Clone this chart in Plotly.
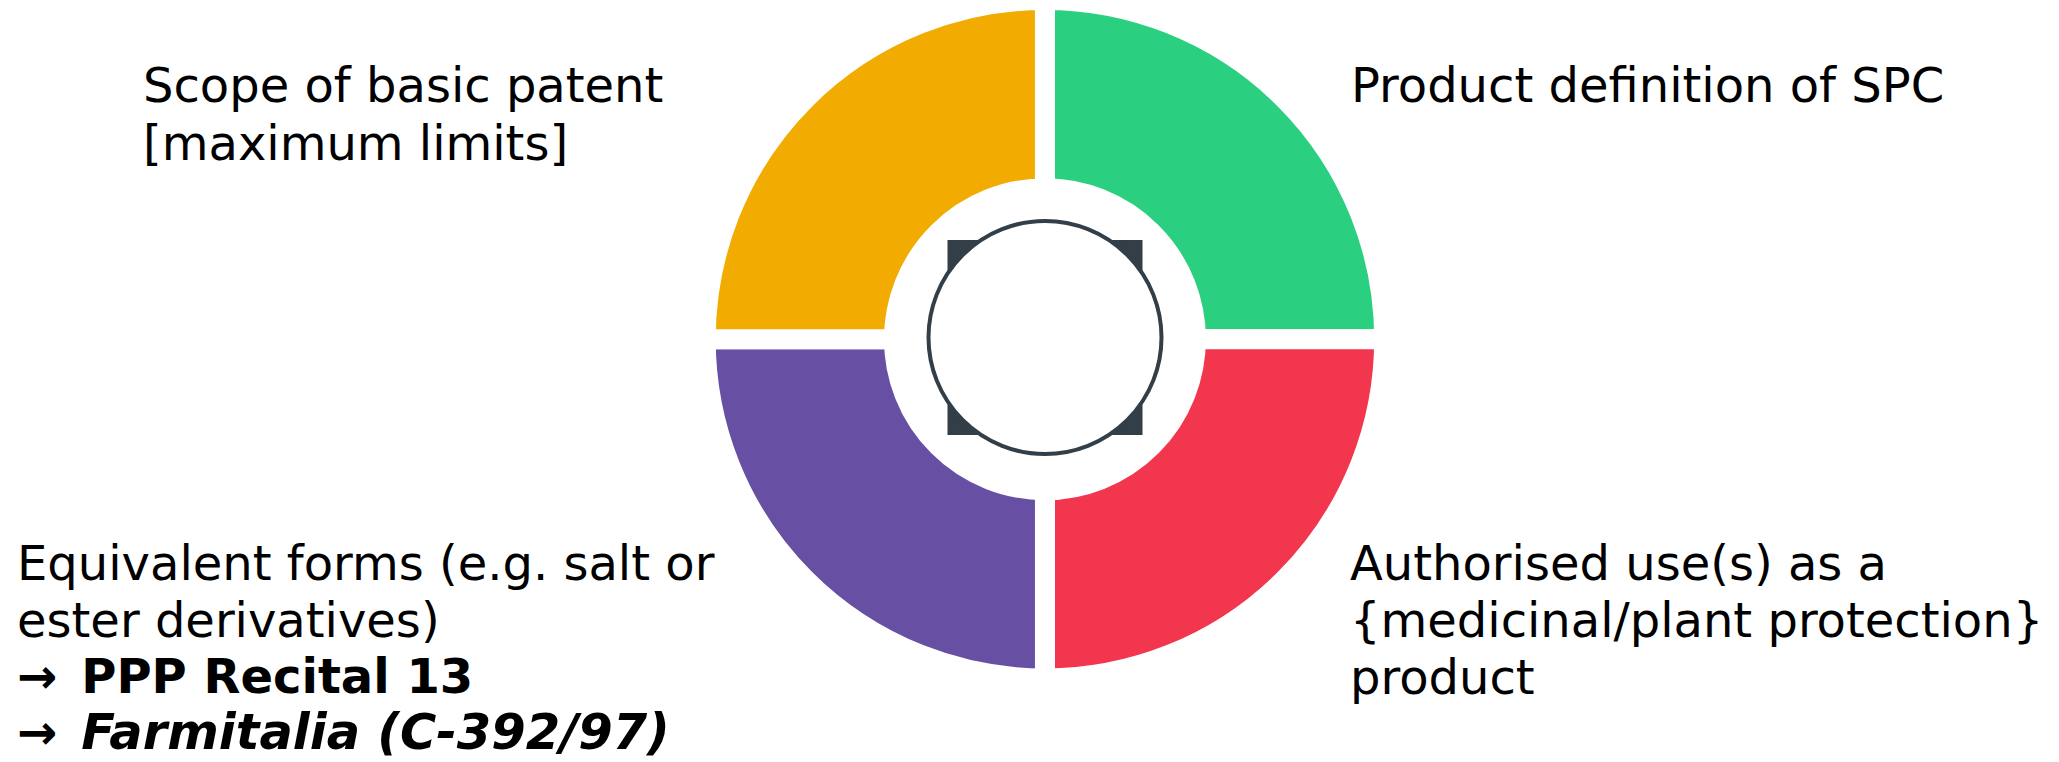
import plotly.graph_objects as go

W, H = 2059, 762

# ring segments (clockwise from 12 o'clock)
segments = ["Product definition of SPC", "Authorised use(s)", "Equivalent forms", "Scope of basic patent"]
values = [1, 1, 1, 1]
colors = ["#2AD07F", "#F2364D", "#6750A4", "#F2AB00"]

ARROW = "<b>→</b>\u2002"

# quadrant labels (one entry per line)
label_tr = ["Product definition of SPC"]
label_br = ["Authorised use(s) as a", "{medicinal/plant protection}", "product"]
label_bl = ["Equivalent forms (e.g. salt or", "ester derivatives)",
            ARROW + "<b>PPP Recital 13</b>",
            ARROW + '<b><i><span style="font-size:49.5px">Farmitalia (C-392/97)</span></i></b>']
label_tl = ["Scope of basic patent", "[maximum limits]"]

FS = 48
DARK = "#323E48"

fig = go.Figure()
fig.add_trace(go.Pie(
    labels=segments, values=values, sort=False, direction="clockwise", rotation=0,
    hole=0.445, marker=dict(colors=colors, line=dict(color="white", width=20)),
    textinfo="none", hoverinfo="label", showlegend=False,
    domain=dict(x=[0.2, 0.815], y=[0.1096, 1.0]),
))

# centre emblem: square with circle on top
cx, cy = 1045 / W, 1 - 337.5 / H
fig.add_shape(type="rect", xref="paper", yref="paper", xsizemode="pixel", ysizemode="pixel",
              xanchor=cx, yanchor=cy, x0=-97.5, x1=97.5, y0=-97.5, y1=97.5,
              fillcolor=DARK, line=dict(width=0), layer="above")
fig.add_shape(type="circle", xref="paper", yref="paper", xsizemode="pixel", ysizemode="pixel",
              xanchor=cx, yanchor=cy, x0=-116.5, x1=116.5, y0=-116.5, y1=116.5,
              fillcolor="white", line=dict(color=DARK, width=4), layer="above")


def add_annot(t, left, baseline, last_at_bottom=False):
    if last_at_bottom:
        y, ya = 0, "bottom"
    else:
        y, ya = 1 - (baseline - 0.346 * FS) / H, "middle"
    fig.add_annotation(
        text=t, xref="paper", yref="paper", x=left / W, y=y,
        xanchor="left", yanchor=ya, showarrow=False, align="left", borderpad=0,
        font=dict(family="DejaVu Sans", size=FS, color="black"),
    )


def add_block(lines, left, baseline, spacing, bottom_last=False):
    for i, t in enumerate(lines):
        add_annot(t, left, baseline + i * spacing,
                  last_at_bottom=(bottom_last and i == len(lines) - 1))


add_block(label_tl, 142, 102, 58)
add_block(label_tr, 1350, 102, 58)
add_block(label_br, 1349, 580, 57)
add_block(label_bl, 16, 580, 56.5, bottom_last=True)

fig.update_layout(
    width=W, height=H, margin=dict(l=0, r=0, t=0, b=0),
    paper_bgcolor="white", plot_bgcolor="white",
)
fig.write_html("out.html")
